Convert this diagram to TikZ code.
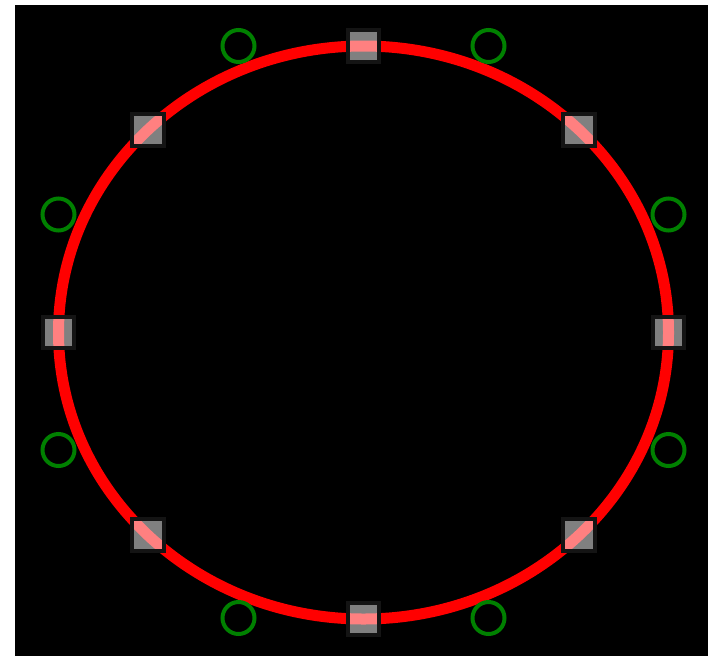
\documentclass[tikz,border=0pt]{standalone}
\usetikzlibrary{calc}
\begin{document}
\begin{tikzpicture}[x=1pt,y=-1pt,
  ring/.style={draw=red,line width=11pt},
  sq/.style={fill=white,fill opacity=0.5,minimum size=31pt,inner sep=0pt,shape=rectangle},
  sqborder/.style={draw=black!92,line width=4pt},
  gc/.style={draw=green!50!black,line width=4pt,circle,minimum size=32pt,inner sep=0pt}]
\useasboundingbox (0,0) rectangle (708,656);
\fill[white] (0,0) rectangle (708,656);
\fill[black] (15,5) rectangle (708,656);
\coordinate (c) at (363.5,332.5);
\draw[ring] (c) ellipse [x radius=305, y radius=286.5];
\foreach \a in {0,45,...,315}{
  \node[sq] (s\a) at ($(c)+({305*cos(\a)},{286.5*sin(\a)})$) {};
  \draw[sqborder] (s\a.south west) rectangle (s\a.north east);
}
\node[gc] (g1) at (238.5,46) {};
\node[gc] (g2) at (488.5,46) {};
\node[gc] (g3) at (58.5,214.5) {};
\node[gc] (g4) at (668.5,214.5) {};
\node[gc] (g5) at (58.5,450) {};
\node[gc] (g6) at (668.5,450) {};
\node[gc] (g7) at (238.5,618) {};
\node[gc] (g8) at (488.5,618) {};
\end{tikzpicture}
\end{document}
